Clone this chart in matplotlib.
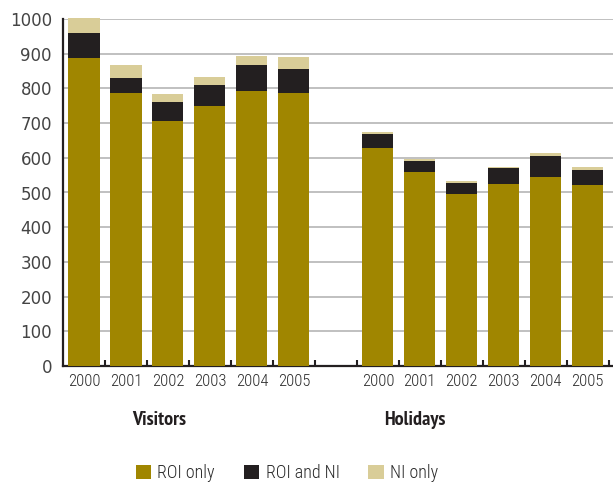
import numpy as np
import matplotlib.pyplot as plt

years = ["2000", "2001", "2002", "2003", "2004", "2005"]
groups = ["Visitors", "Holidays"]

# thousands, per year
visitors_roi = [888, 787, 706, 749, 792, 787]
visitors_both = [72, 43, 55, 61, 75, 69]
visitors_ni = [42, 37, 23, 23, 26, 34]

holidays_roi = [628, 559, 496, 524, 545, 522]
holidays_both = [41, 32, 31, 47, 60, 43]
holidays_ni = [5, 6, 6, 2, 9, 8]

series_names = ["ROI only", "ROI and NI", "NI only"]
colors = ["#a08600", "#231f20", "#d9cd98"]

narrow = ["Roboto Condensed", "DejaVu Sans"]
narrow_bold = ["PT Sans Narrow", "DejaVu Sans"]

fig = plt.figure(figsize=(6.13, 4.84), dpi=100)
ax = fig.add_axes([63 / 613, 118 / 484, 550 / 613, 347 / 484])

# visitors in slots 0-5, one empty slot, holidays in slots 7-12
x_vis = np.arange(6)
x_hol = np.arange(6) + 7
width = 0.74

for xs, parts in [(x_vis, [visitors_roi, visitors_both, visitors_ni]),
                  (x_hol, [holidays_roi, holidays_both, holidays_ni])]:
    bottom = np.zeros(6)
    for vals, col, name in zip(parts, colors, series_names):
        ax.bar(xs, vals, width, bottom=bottom, color=col, zorder=3,
               clip_on=False, label=name if xs[0] == 0 else None)
        bottom += np.array(vals)

ax.set_xlim(-0.5, 12.6)
ax.set_ylim(0, 1000)
ax.set_yticks(np.arange(0, 1001, 100))
ax.yaxis.grid(True, color="#c0c0c0", linewidth=1.4, zorder=0)
ax.set_axisbelow(True)

ax.set_xticks(np.concatenate([x_vis, x_hol]))
ax.set_xticklabels(years + years, fontfamily=narrow, fontweight=300,
                   fontsize=12, color="#2a2a2a")
ax.set_xticks(np.arange(13) + 0.5, minor=True)
ax.tick_params(axis="x", which="major", length=0, pad=6)
ax.tick_params(axis="x", which="minor", direction="in", length=4, width=1.5, color="#231f20")
ax.tick_params(axis="y", length=0, pad=8, labelsize=12, labelcolor="#444444")

for s in ["top", "right"]:
    ax.spines[s].set_visible(False)
for s in ["left", "bottom"]:
    ax.spines[s].set_color("#231f20")
    ax.spines[s].set_linewidth(1.6)

ax.text(1.8, -155, groups[0], ha="center", va="center", fontfamily=narrow_bold,
        fontweight="bold", fontsize=14.5, color="#231f20")
ax.text(7.87, -155, groups[1], ha="center", va="center", fontfamily=narrow_bold,
        fontweight="bold", fontsize=14.5, color="#231f20")

fig.legend(loc="center", bbox_to_anchor=(287 / 613, 1 - 473 / 484), ncol=3,
           frameon=False, handlelength=0.85, handleheight=0.85, handletextpad=0.35,
           columnspacing=1.6, prop={"family": narrow, "weight": 300, "size": 13},
           labelcolor="#2a2a2a")

fig.savefig("out.png", dpi=100)
